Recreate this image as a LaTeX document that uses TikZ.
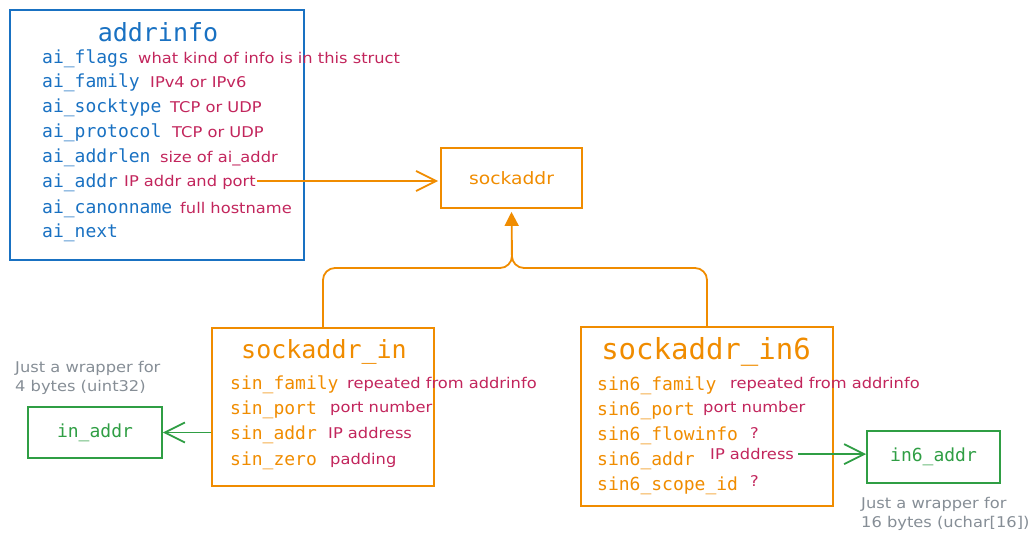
\documentclass[tikz,border=0pt]{standalone}
\usepackage{fontspec}
\setmainfont{Liberation Sans}
\newfontfamily\codefont{DejaVu Sans Mono}
\newfontfamily\notefont[FakeStretch=1.1]{DejaVu Sans}
\usetikzlibrary{arrows.meta}
\definecolor{cblue}{HTML}{1971C2}
\definecolor{corange}{HTML}{F08C00}
\definecolor{cred}{HTML}{C2255C}
\definecolor{cgreen}{HTML}{2F9E44}
\definecolor{cgray}{HTML}{868E96}
\tikzset{
  boxshape/.style={draw, line width=1.8pt, inner sep=0pt},
  fieldtxt/.style={anchor=mid west, inner sep=0pt, font=\codefont\fontsize{18}{20}\selectfont},
  titletxt/.style={inner sep=0pt, font=\codefont\fontsize{25}{28}\selectfont},
  notetxt/.style={anchor=mid west, inner sep=0pt, text=cred, font=\notefont\fontsize{14.8}{16}\selectfont},
  graytxt/.style={anchor=north west, inner sep=0pt, text=cgray, align=left, font=\notefont\fontsize{14.8}{19}\selectfont},
  openarrow/.style={line width=1.8pt, -{Straight Barb[length=20pt,width=20pt,line width=1.8pt]}},
}
\begin{document}
\begin{tikzpicture}[x=1pt,y=-1pt]
\useasboundingbox (0,0) rectangle (1032,545);
% addrinfo
\node[boxshape, draw=cblue, minimum width=294pt, minimum height=250pt] (addrinfo) at (157,135) {};
\node[titletxt, text=cblue] (t1) at (158,32) {addrinfo};
\begin{scope}[every node/.append style={text=cblue}]
\node[fieldtxt] (f1) at (42,61) {ai\_flags};
\node[fieldtxt] (f2) at (42,85) {ai\_family};
\node[fieldtxt] (f3) at (42,110) {ai\_socktype};
\node[fieldtxt] (f4) at (42,135) {ai\_protocol};
\node[fieldtxt] (f5) at (42,160) {ai\_addrlen};
\node[fieldtxt] (f6) at (42,185) {ai\_addr};
\node[fieldtxt] (f7) at (42,211) {ai\_canonname};
\node[fieldtxt] (f8) at (42,235) {ai\_next};
\end{scope}
\node[notetxt] (n1) at (138,61) {what kind of info is in this struct};
\node[notetxt] (n2) at (150,85) {IPv4 or IPv6};
\node[notetxt] (n3) at (170,110) {TCP or UDP};
\node[notetxt] (n4) at (172,135) {TCP or UDP};
\node[notetxt] (n5) at (160,160) {size of ai\_addr};
\node[notetxt] (n6) at (124,184) {IP addr and port};
\node[notetxt] (n7) at (180,211) {full hostname};
% sockaddr
\node[boxshape, draw=corange, minimum width=141pt, minimum height=60pt, text=corange, font=\notefont\fontsize{17}{18}\selectfont] (sockaddr) at (511.5,178) {sockaddr};
\coordinate (n6e) at ([xshift=1pt]n6.east |- 0,181);
\draw[corange, openarrow, shorten >=2pt] (n6e) -- (sockaddr.west |- n6e);
% sockaddr_in
\node[boxshape, draw=corange, minimum width=222pt, minimum height=158pt] (sin) at (323,407) {};
\node[titletxt, text=corange] (t2) at (324,352) {sockaddr\_in};
\begin{scope}[every node/.append style={text=corange}]
\node[fieldtxt] (g1) at (230,387) {sin\_family};
\node[fieldtxt] (g2) at (230,412) {sin\_port};
\node[fieldtxt] (g3) at (230,437) {sin\_addr};
\node[fieldtxt] (g4) at (230,463) {sin\_zero};
\end{scope}
\node[notetxt] (m1) at (347,386) {repeated from addrinfo};
\node[notetxt] (m2) at (330,410) {port number};
\node[notetxt] (m3) at (328,436) {IP address};
\node[notetxt] (m4) at (330,462) {padding};
% sockaddr_in6
\node[boxshape, draw=corange, minimum width=252pt, minimum height=179pt] (sin6) at (707,416.5) {};
\node[titletxt, text=corange, font=\codefont\fontsize{29}{32}\selectfont] (t3) at (706,352) {sockaddr\_in6};
\begin{scope}[every node/.append style={text=corange}]
\node[fieldtxt] (h1) at (597,388) {sin6\_family};
\node[fieldtxt] (h2) at (597,413) {sin6\_port};
\node[fieldtxt] (h3) at (597,438) {sin6\_flowinfo};
\node[fieldtxt] (h4) at (597,463) {sin6\_addr};
\node[fieldtxt] (h5) at (597,488) {sin6\_scope\_id};
\end{scope}
\node[notetxt] (k1) at (730,386) {repeated from addrinfo};
\node[notetxt] (k2) at (703,410) {port number};
\node[notetxt] (k3) at (750,436) {?};
\node[notetxt] (k4) at (710,457) {IP address};
\node[notetxt] (k5) at (750,484) {?};
% inheritance
\coordinate (join) at (512,268);
\draw[corange, line width=1.8pt, rounded corners=12pt] (sin.north) |- (join) -- (512,240);
\draw[corange, line width=1.8pt, rounded corners=12pt, -{Triangle[length=14pt,width=14pt]}, shorten >=3pt] (sin6.north) |- (join) -- (sockaddr.south);
% in_addr
\node[boxshape, draw=cgreen, minimum width=134pt, minimum height=51pt, text=cgreen, font=\codefont\fontsize{18}{20}\selectfont] (inaddr) at (95,432.5) {in\_addr};
\draw[cgreen, openarrow] (sin.west |- inaddr.east) -- (inaddr.east);
\node[graytxt] (w1) at (15,361) {Just a wrapper for\\4 bytes (uint32)};
% in6_addr
\node[boxshape, draw=cgreen, minimum width=133pt, minimum height=52pt, text=cgreen, font=\codefont\fontsize{18}{20}\selectfont] (in6addr) at (933.5,457) {in6\_addr};
\coordinate (k4e) at ([xshift=4pt]k4.east);
\draw[cgreen, openarrow] (k4e) -- (in6addr.west |- k4e);
\node[graytxt] (w2) at (861,497) {Just a wrapper for\\16 bytes (uchar[16])};
\end{tikzpicture}
\end{document}
